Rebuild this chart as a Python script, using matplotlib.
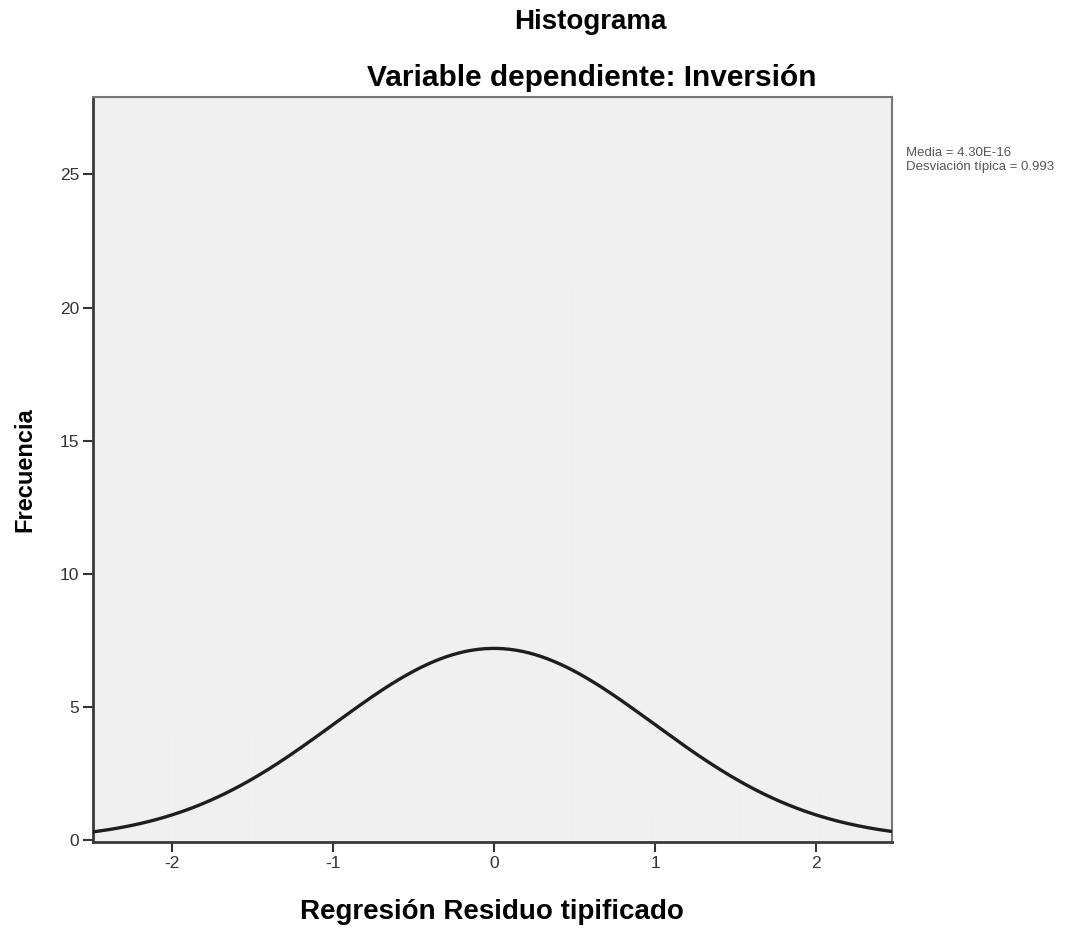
import numpy as np
import matplotlib
matplotlib.use("Agg")
import matplotlib.pyplot as plt

# datos (barras casi invisibles en el original)
bin_edges = [-2.0, -1.5, -1.0, -0.5, 0.0, 0.5, 1.0, 1.5, 2.0]
bin_counts = [4, 1, 2, 5, 21, 1, 1, 2]
media = 4.30e-16
desv = 0.993
pico_curva = 7.2

x_ticks = [-2, -1, 0, 1, 2]
y_ticks = [0, 5, 10, 15, 20, 25]

plt.rcParams['font.family'] = ['Liberation Sans', 'DejaVu Sans']
plt.rcParams['axes.unicode_minus'] = False

fig = plt.figure(figsize=(10.77, 9.34), dpi=100)
ax = fig.add_axes([0.0864, 0.0985, 0.7416, 0.7975])
ax.set_facecolor('#f0f0f0')

# barras del histograma (en el original casi no se distinguen del fondo)
ax.bar(bin_edges[:-1], bin_counts, width=np.diff(bin_edges), align='edge',
       color='#f0f0f0', edgecolor='#f3f3f3', linewidth=0.6, zorder=1)

# curva normal con la media y desviacion del recuadro
xs = np.linspace(-2.6, 2.6, 400)
ys = pico_curva * np.exp(-0.5 * ((xs - media) / desv) ** 2)
ax.plot(xs, ys, color='#1e1e1e', linewidth=2.4, zorder=3)

ax.set_xlim(-2.49, 2.47)
ax.set_ylim(-0.07, 27.9)
ax.set_xticks(x_ticks)
ax.set_yticks(y_ticks)
ax.tick_params(direction='out', length=7, width=1.5, color='#333333',
               labelsize=12.5, labelcolor='#333333', pad=3)

for lado in ['left', 'bottom']:
    ax.spines[lado].set_linewidth(2.0)
    ax.spines[lado].set_color('#3a3a3a')
for lado in ['top', 'right']:
    ax.spines[lado].set_linewidth(1.5)
    ax.spines[lado].set_color('#777777')

ax.set_xlabel('Regresión Residuo tipificado', fontsize=20, fontweight='bold', labelpad=20)
ax.set_ylabel('Frecuencia', fontsize=17, fontweight='bold', labelpad=17)

fig.text(0.548, 0.976, 'Histograma', ha='center', va='center', fontsize=20, fontweight='bold')
fig.text(0.549, 0.916, 'Variable dependiente: Inversión', ha='center', va='center',
         fontsize=21.5, fontweight='bold')

fig.text(0.841, 0.829, 'Media = 4.30E-16\nDesviación típica = 0.993', ha='left', va='center',
         fontsize=9.5, color='#555555', linespacing=1.2)

fig.savefig('out.png', dpi=100, facecolor='white')
